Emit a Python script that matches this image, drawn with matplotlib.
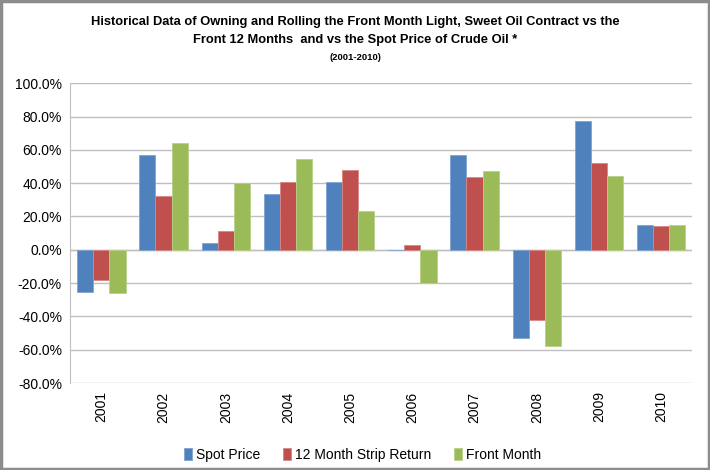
import numpy as np
import matplotlib.pyplot as plt
from matplotlib.patches import Rectangle

years = ["2001", "2002", "2003", "2004", "2005", "2006", "2007", "2008", "2009", "2010"]
spot_price = [-25.5, 57.0, 4.0, 33.5, 40.5, 0.0, 57.0, -53.0, 77.5, 15.0]
strip_12m = [-18.0, 32.0, 11.5, 40.5, 48.0, 3.0, 43.5, -42.0, 52.0, 14.0]
front_month = [-26.0, 64.0, 40.0, 54.5, 23.5, -20.0, 47.5, -58.0, 44.5, 15.0]
series_names = ["Spot Price", "12 Month Strip Return", "Front Month"]

plt.rcParams['font.family'] = ['Liberation Sans', 'DejaVu Sans']

fig = plt.figure(figsize=(7.1, 4.7), dpi=100)
ax = fig.add_axes([0.099, 0.185, 0.876, 0.638])

x = np.arange(len(years))
w = 0.26
colors = ["#4F81BD", "#C0504D", "#9BBB59"]
edges = ["#7FA3D3", "#D98684", "#B9D08A"]
for i, vals in enumerate([spot_price, strip_12m, front_month]):
    ax.bar(x + (i - 1) * w, vals, w, color=colors[i], edgecolor=edges[i],
           linewidth=0.6, label=series_names[i], zorder=3)

ax.set_ylim(-80, 100)
ax.set_xlim(-0.5, len(years) - 0.5)
ax.set_yticks(np.arange(-80, 101, 20))
ax.set_yticklabels(["%.1f%%" % v for v in np.arange(-80, 101, 20)], fontsize=10)
ax.set_xticks(x)
ax.set_xticklabels(years, rotation=90, fontsize=10)
ax.tick_params(axis='both', length=0, pad=6)
ax.grid(axis='y', color='#BFBFBF', linewidth=1, zorder=0)
ax.axhline(0, color='#BFBFBF', linewidth=1, zorder=2)
for s in ['top', 'right', 'bottom']:
    ax.spines[s].set_visible(False)
ax.spines['left'].set_color('#BFBFBF')

ax.legend(loc='upper center', bbox_to_anchor=(0.47, -0.175), ncol=3, frameon=False,
          fontsize=10, handlelength=0.6, handleheight=0.9, handletextpad=0.3,
          columnspacing=1.6)

fig.text(0.5, 0.953, "Historical Data of Owning and Rolling the Front Month Light, Sweet Oil Contract vs the",
         ha='center', va='center', fontsize=9.3, fontweight='bold')
fig.text(0.5, 0.915, "Front 12 Months  and vs the Spot Price of Crude Oil *",
         ha='center', va='center', fontsize=9.3, fontweight='bold')
fig.text(0.5, 0.878, "(2001-2010)", ha='center', va='center', fontsize=6.8, fontweight='bold')

fig.patches.append(Rectangle((0.002, 0.003), 0.996, 0.994, transform=fig.transFigure,
                             fill=False, edgecolor='#8C8C8C', linewidth=2.5))

fig.savefig("out.png", dpi=100)
